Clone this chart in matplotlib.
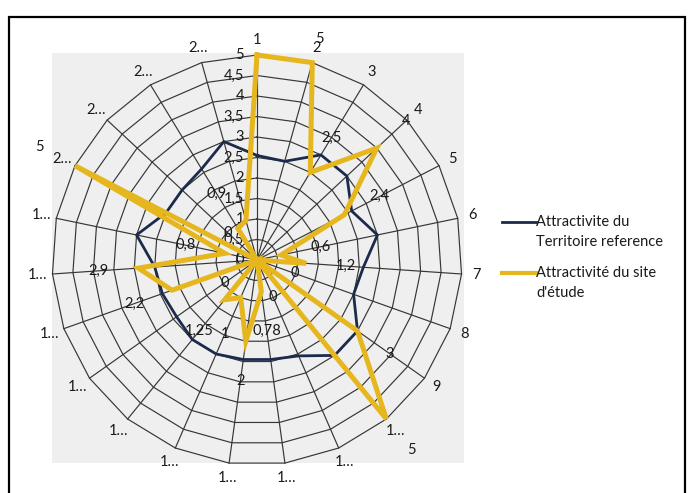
import matplotlib
matplotlib.use("Agg")
import matplotlib.pyplot as plt
import numpy as np
from matplotlib.patches import Rectangle
from matplotlib.lines import Line2D

plt.rcParams['font.family'] = ['Lato', 'DejaVu Sans']

# Axis categories (long names get cut to "1…" / "2…")
categories = ["1", "2", "3", "4", "5", "6", "7", "8", "9",
              "1…", "1…", "1…", "1…", "1…", "1…", "1…", "1…", "1…", "1…",
              "2…", "2…", "2…", "2…"]

# Attractivite du Territoire reference
reference = [2.55, 2.5, 3.0, 3.0, 2.6, 3.0, 2.6, 2.5, 3.0, 3.0, 2.55, 2.45,
             2.45, 2.5, 2.5, 2.4, 2.45, 2.5, 3.0, 2.5, 2.5, 2.6, 3.0]

# Attractivité du site d'étude
site = [5, 5, 2.5, 4, 2.4, 0.6, 1.2, 0, 3, 5, 0, 0.78,
        2, 1, 1.25, 0, 2.2, 2.9, 0.8, 5, 0, 0.9, 1]
site_unlabelled = [0, 22]

ring_values = np.arange(0, 5.01, 0.5)

NAVY = '#1c2a4b'
GOLD = '#e6b61e'
GRID = '#363636'
TXT = '#1a1a1a'
FS = 10.5

W, H = 694, 493
fig = plt.figure(figsize=(W / 100, H / 100), dpi=100)

# outer border and grey plot area
fig.add_artist(Rectangle((9 / W, -0.01), 676 / W, 1 - 17 / H + 0.01,
                         transform=fig.transFigure, fill=False,
                         edgecolor='black', linewidth=1.6))
fig.add_artist(Rectangle((52 / W, 1 - 463 / H), 412 / W, 410 / H,
                         transform=fig.transFigure, facecolor='#efefef',
                         edgecolor='none', zorder=0))

cx, cy, rad = 257, 260, 205
ax = fig.add_axes([(cx - rad) / W, 1 - (cy + rad) / H, 2 * rad / W, 2 * rad / H],
                  projection='polar')
ax.set_theta_zero_location('N')
ax.set_theta_direction(-1)
ax.set_ylim(0, 5)
ax.patch.set_visible(False)
ax.spines['polar'].set_visible(False)
ax.grid(False)
ax.set_xticks([])
ax.set_yticks([])

n = len(categories)
theta = np.arange(n) * 2 * np.pi / n
closed = np.append(theta, theta[0])

# spider web grid
for r in ring_values[1:]:
    ax.plot(closed, [r] * (n + 1), color=GRID, lw=0.85, clip_on=False, zorder=1)
for t in theta:
    ax.plot([t, t], [0, 5], color=GRID, lw=0.85, clip_on=False, zorder=1)

# radial axis labels
for r in ring_values:
    ax.annotate(f"{r:g}".replace('.', ','), xy=(0, r), xytext=(-13, 0),
                textcoords='offset pixels', ha='right', va='center',
                fontsize=FS, color=TXT)

# category labels
for t, lab in zip(theta, categories):
    ax.annotate(lab, xy=(t, 5), xytext=(15 * np.sin(t), 15 * np.cos(t)),
                textcoords='offset pixels', ha='center', va='center',
                fontsize=FS, color=TXT)

ax.plot(closed, reference + reference[:1], color=NAVY, lw=2.0,
        clip_on=False, zorder=3)
ax.plot(closed, site + site[:1], color=GOLD, lw=3.6,
        solid_joinstyle='miter', clip_on=False, zorder=4)

# value labels for the site series (the one near the top edge sits closer)
label_dist = {1: 25}
for i, (t, v) in enumerate(zip(theta, site)):
    if i in site_unlabelled:
        continue
    d = label_dist.get(i, 40)
    ax.annotate(f"{v:g}".replace('.', ','), xy=(t, v),
                xytext=(d * np.sin(t), d * np.cos(t)),
                textcoords='offset pixels', ha='center', va='center',
                fontsize=FS, color=TXT, zorder=5)

# legend
def legend_entry(y, color, lw, lines):
    fig.add_artist(Line2D([502 / W, 536 / W], [1 - y / H, 1 - y / H],
                          transform=fig.transFigure, color=color, lw=lw))
    for k, line in enumerate(lines):
        fig.text(536 / W, 1 - (y + 20 * k) / H, line, ha='left', va='center',
                 fontsize=FS, color=TXT)

legend_entry(222, NAVY, 2.0, ["Attractivite du", "Territoire reference"])
legend_entry(273, GOLD, 3.0, ["Attractivité du site", "d'étude"])

fig.savefig("out.png", dpi=100)
